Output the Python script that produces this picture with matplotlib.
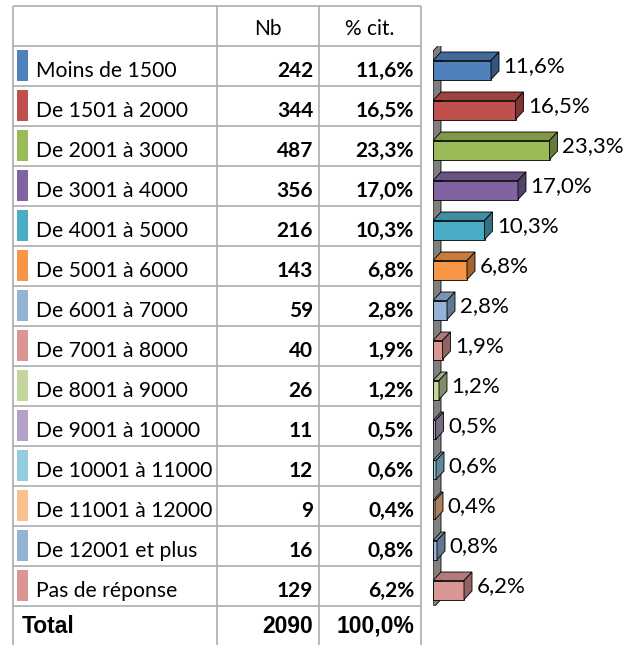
"""Income bracket table with 3D-style horizontal bars (recreation)."""
import matplotlib
matplotlib.use("Agg")
import matplotlib.pyplot as plt
from matplotlib.colors import to_rgb
from matplotlib.patches import Polygon

categories = ["Moins de 1500", "De 1501 à 2000", "De 2001 à 3000", "De 3001 à 4000",
              "De 4001 à 5000", "De 5001 à 6000", "De 6001 à 7000", "De 7001 à 8000",
              "De 8001 à 9000", "De 9001 à 10000", "De 10001 à 11000", "De 11001 à 12000",
              "De 12001 et plus", "Pas de réponse"]
counts = [242, 344, 487, 356, 216, 143, 59, 40, 26, 11, 12, 9, 16, 129]
percents = [11.6, 16.5, 23.3, 17.0, 10.3, 6.8, 2.8, 1.9, 1.2, 0.5, 0.6, 0.4, 0.8, 6.2]
colors = ["#4F81BD", "#C0504D", "#9BBB59", "#8064A2", "#4BACC6", "#F79646", "#95B3D7",
          "#D99694", "#C3D69B", "#B3A2C7", "#93CDDD", "#FAC090", "#95B3D7", "#D99694"]
total_count = 2090
total_pct = 100.0

FONT = "Lato"
W, H = 623, 645
GRID = "#A6A6A6"


def fmt_pct(p):
    return f"{p:.1f}%".replace(".", ",")


def shade(c, f):
    r, g, b = to_rgb(c)
    return (r * f, g * f, b * f)


fig = plt.figure(figsize=(W / 100, H / 100), dpi=100)

# table drawn in pixel coordinates
ax = fig.add_axes([0, 0, 1, 1])
ax.set_xlim(0, W)
ax.set_ylim(H, 0)
ax.axis("off")

x_left, x_c1, x_c2, x_right = 13, 217, 319, 421
y_top, y_head, row_h = 6, 46, 40
n = len(categories)

ax.vlines([x_left, x_c1, x_c2, x_right], y_top, H, color=GRID, lw=1.1)
ax.hlines([y_top] + [y_head + i * row_h for i in range(n + 1)], x_left, x_right,
          color=GRID, lw=1.1)

ax.text((x_c1 + x_c2) / 2, 35, "Nb", ha="center", va="baseline", fontsize=15, family=FONT)
ax.text((x_c2 + x_right) / 2, 35, "% cit.", ha="center", va="baseline", fontsize=15,
        family=FONT)

for i, (cat, nb, p, col) in enumerate(zip(categories, counts, percents, colors)):
    top = y_head + i * row_h
    ax.add_patch(plt.Rectangle((17, top + 4), 11, 31, color=col, lw=0))
    base = top + 31
    ax.text(36, base, cat, ha="left", va="baseline", fontsize=15.2, family=FONT)
    ax.text(313, base, str(nb), ha="right", va="baseline", fontsize=15, family=FONT,
            weight="bold")
    ax.text(414, base, fmt_pct(p), ha="right", va="baseline", fontsize=15, family=FONT,
            weight="bold")

tot_base = y_head + n * row_h + 27
ax.text(22, tot_base, "Total", ha="left", va="baseline", fontsize=16.5,
        family="Liberation Sans", weight="bold")
ax.text(313, tot_base, str(total_count), ha="right", va="baseline", fontsize=16.5,
        family="Liberation Sans", weight="bold")
ax.text(414, tot_base, fmt_pct(total_pct), ha="right", va="baseline", fontsize=16.5,
        family="Liberation Sans", weight="bold")

# bar chart: 1 % = 5 px, one row = 40 px
px_per_pct = 5.0
bx0 = 433
bax = fig.add_axes([bx0 / W, (H - (y_head + n * row_h)) / H, (W - bx0) / W, n * row_h / H])
bax.set_xlim(0, (W - bx0) / px_per_pct)
bax.set_ylim(n - 0.5, -0.5)
bax.axis("off")

dx = 8 / px_per_pct
dy = 8.5 / row_h
bh = 0.475
off = 0.1

# back wall
wall_top, wall_bot = -0.375, n - 0.45
bax.add_patch(Polygon([(0, wall_top), (dx, wall_top - dy), (dx, wall_bot - dy), (0, wall_bot)],
                      closed=True, facecolor="#808080", edgecolor="black", lw=0.6, zorder=1))

ys = [i + off for i in range(n)]
bax.barh(ys, percents, height=bh, left=0, color=colors, edgecolor="black", lw=0.6, zorder=3)
for y, p, col in zip(ys, percents, colors):
    yt, yb = y - bh / 2, y + bh / 2
    bax.add_patch(Polygon([(0, yt), (p, yt), (p + dx, yt - dy), (dx, yt - dy)], closed=True,
                          facecolor=shade(col, 0.82), edgecolor="black", lw=0.6, zorder=3))
    bax.add_patch(Polygon([(p, yt), (p + dx, yt - dy), (p + dx, yb - dy), (p, yb)], closed=True,
                          facecolor=shade(col, 0.66), edgecolor="black", lw=0.6, zorder=3))
    bax.text(p + dx + 0.9, y - off, fmt_pct(p), ha="left", va="center", fontsize=16,
             family=FONT)

fig.savefig("out.png", dpi=100)
